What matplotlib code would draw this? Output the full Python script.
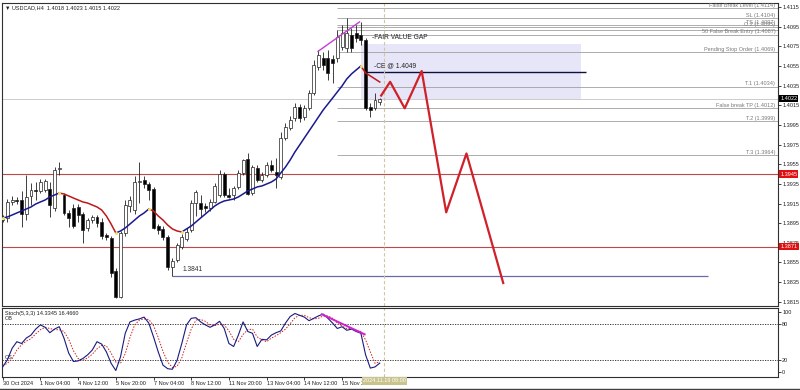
import matplotlib
matplotlib.use('Agg')
import matplotlib.pyplot as plt
import matplotlib.transforms as mtransforms
from matplotlib.patches import Rectangle
from matplotlib.lines import Line2D
import numpy as np

plt.rcParams['font.family'] = ['Liberation Sans', 'DejaVu Sans']

# USDCAD H4 candles, bar 0 = 30 Oct 2024 20:00
opens = [1.38982, 1.39003, 1.39166, 1.39186, 1.39186, 1.39043, 1.39227, 1.39288, 1.39278, 1.39288,
         1.39298, 1.39104, 1.39502, 1.39237, 1.39054, 1.39104, 1.39115, 1.39043, 1.38901, 1.38982,
         1.39013, 1.38962, 1.38829, 1.38799, 1.38463, 1.38198, 1.38850, 1.39125, 1.39084, 1.39369,
         1.39390, 1.39349, 1.39298, 1.38921, 1.38891, 1.38809, 1.38503, 1.38575, 1.38707, 1.38789,
         1.38880, 1.39155, 1.39155, 1.39125, 1.39104, 1.39166, 1.39237, 1.39451, 1.39237, 1.39237,
         1.39319, 1.39461, 1.39604, 1.39257, 1.39512, 1.39390, 1.39441, 1.39543, 1.39471, 1.39420,
         1.39818, 1.39920, 1.40022, 1.40134, 1.40032, 1.40124, 1.40276, 1.40541, 1.40633, 1.40633,
         1.40623, 1.40633, 1.40745, 1.40735, 1.40867, 1.40888, 1.40867, 1.40816, 1.40134, 1.40124,
         1.40180]
highs = [1.39033, 1.39196, 1.39227, 1.39217, 1.39278, 1.39441, 1.39359, 1.39369, 1.39400, 1.39400,
         1.39369, 1.39522, 1.39573, 1.39257, 1.39084, 1.39145, 1.39145, 1.39064, 1.39003, 1.39033,
         1.39033, 1.39003, 1.38850, 1.38819, 1.38493, 1.38870, 1.39186, 1.39227, 1.39431, 1.39573,
         1.39431, 1.39369, 1.39319, 1.38941, 1.38921, 1.38829, 1.38595, 1.38748, 1.38840, 1.38901,
         1.39186, 1.39288, 1.39237, 1.39155, 1.39196, 1.39359, 1.39492, 1.39471, 1.39308, 1.39329,
         1.39492, 1.39604, 1.39665, 1.39543, 1.39543, 1.39471, 1.39573, 1.39594, 1.39614, 1.39879,
         1.39971, 1.40042, 1.40174, 1.40164, 1.40154, 1.40307, 1.40613, 1.40715, 1.40694, 1.40715,
         1.40664, 1.40918, 1.40969, 1.41041, 1.40939, 1.40969, 1.41000, 1.40837, 1.40174, 1.40276,
         1.40230]
lows = [1.38962, 1.38962, 1.39135, 1.39145, 1.38911, 1.38982, 1.39135, 1.39186, 1.39257, 1.39268,
        1.39013, 1.39074, 1.39441, 1.39033, 1.38911, 1.38901, 1.38962, 1.38748, 1.38870, 1.38952,
        1.38911, 1.38789, 1.38778, 1.38401, 1.38187, 1.38187, 1.38819, 1.39064, 1.39043, 1.39155,
        1.39308, 1.39186, 1.38891, 1.38840, 1.38778, 1.38473, 1.38410, 1.38554, 1.38687, 1.38768,
        1.38860, 1.39023, 1.39013, 1.39064, 1.39074, 1.39155, 1.39217, 1.39217, 1.39206, 1.39186,
        1.39298, 1.39441, 1.39237, 1.39237, 1.39369, 1.39369, 1.39420, 1.39471, 1.39308, 1.39400,
        1.39797, 1.39899, 1.39991, 1.39981, 1.40001, 1.40103, 1.40256, 1.40511, 1.40511, 1.40409,
        1.40378, 1.40592, 1.40715, 1.40694, 1.40694, 1.40796, 1.40765, 1.40103, 1.40032, 1.40103,
        1.40150]
closes = [1.39013, 1.39166, 1.39186, 1.39176, 1.39043, 1.39217, 1.39288, 1.39278, 1.39369, 1.39380,
          1.39135, 1.39492, 1.39512, 1.39054, 1.39003, 1.38921, 1.39033, 1.38880, 1.38982, 1.39013,
          1.38952, 1.38819, 1.38809, 1.38442, 1.38198, 1.38850, 1.39135, 1.39186, 1.39369, 1.39380,
          1.39349, 1.39288, 1.38901, 1.38880, 1.38809, 1.38503, 1.38564, 1.38727, 1.38809, 1.38860,
          1.39155, 1.39268, 1.39094, 1.39104, 1.39166, 1.39329, 1.39451, 1.39237, 1.39217, 1.39308,
          1.39461, 1.39594, 1.39247, 1.39522, 1.39390, 1.39441, 1.39543, 1.39492, 1.39441, 1.39818,
          1.39930, 1.40001, 1.40134, 1.40022, 1.40124, 1.40276, 1.40562, 1.40664, 1.40562, 1.40480,
          1.40582, 1.40847, 1.40888, 1.40888, 1.40735, 1.40837, 1.40816, 1.40124, 1.40103, 1.40205,
          1.40220]

# moving average, blue while rising, red while falling
ma_line = [1.39003, 1.39013, 1.39033, 1.39054, 1.39074, 1.39094, 1.39115, 1.39145, 1.39166, 1.39186,
           1.39217, 1.39237, 1.39257, 1.39247, 1.39227, 1.39206, 1.39186, 1.39166, 1.39155, 1.39135,
           1.39115, 1.39084, 1.39023, 1.38941, 1.38850, 1.38870, 1.38901, 1.38941, 1.38982, 1.39023,
           1.39054, 1.39094, 1.39074, 1.39023, 1.38982, 1.38931, 1.38891, 1.38870, 1.38860, 1.38891,
           1.38921, 1.38962, 1.39003, 1.39043, 1.39084, 1.39125, 1.39155, 1.39176, 1.39186, 1.39196,
           1.39217, 1.39247, 1.39278, 1.39298, 1.39319, 1.39329, 1.39349, 1.39369, 1.39400, 1.39461,
           1.39522, 1.39594, 1.39675, 1.39746, 1.39818, 1.39889, 1.39960, 1.40032, 1.40103, 1.40164,
           1.40225, 1.40287, 1.40348, 1.40419, 1.40470, 1.40511, 1.40551, 1.40480, 1.40450, 1.40419,
           1.40388]
ma_turns = [0, 12, 24, 31, 38, 76, 80]

stoch_main = [8, 20, 39, 50, 47, 56, 61, 71, 78, 74,
              65, 71, 75, 56, 31, 17, 18, 22, 28, 36,
              50, 46, 33, 14, 2, 25, 64, 83, 86, 88,
              91, 81, 58, 33, 11, 5, 4, 19, 47, 78,
              89, 90, 83, 78, 74, 78, 84, 72, 47, 42,
              61, 83, 67, 64, 42, 54, 53, 61, 65, 68,
              81, 92, 97, 94, 91, 85, 89, 93, 96, 89,
              81, 72, 75, 69, 71, 67, 64, 28, 6, 8,
              14.33]
stoch_signal = [10, 14, 22, 36, 45, 51, 55, 63, 70, 74,
                72, 70, 70, 67, 54, 35, 22, 19, 23, 29,
                38, 44, 43, 31, 16, 14, 30, 57, 78, 86,
                88, 87, 77, 57, 34, 16, 7, 9, 23, 48,
                71, 86, 87, 84, 78, 77, 79, 78, 68, 54,
                50, 62, 70, 71, 58, 53, 50, 56, 60, 65,
                71, 80, 90, 94, 94, 90, 88, 89, 93, 93,
                89, 81, 76, 72, 72, 69, 67, 53, 33, 14,
                16.47]

time_ticks = [0, 8, 16, 24, 32, 40, 48, 56, 64, 72]
time_labels = ['30 Oct 2024', '1 Nov 04:00', '4 Nov 12:00', '5 Nov 20:00', '7 Nov 04:00',
               '8 Nov 12:00', '11 Nov 20:00', '13 Nov 04:00', '14 Nov 12:00', '15 Nov 20:00']
price_ticks = [1.3815, 1.3835, 1.3855, 1.3875, 1.3895, 1.3915, 1.3935, 1.3955,
               1.3975, 1.3995, 1.4015, 1.4035, 1.4055, 1.4075, 1.4095, 1.4115]

# trade levels drawn from bar 71 to the right edge
levels = [1.4114, 1.4104, 1.4097, 1.4095, 1.4092, 1.4087, 1.4069, 1.4034, 1.4012, 1.3999, 1.3964]
level_labels = ['False Break Level (1.4114)', 'SL (1.4104)', 'TS (1.4097)', 'O.2 (1.4095)', '',
                '50 False Break Entry (1.4087)', 'Pending Stop Order (1.4069)', 'T.1 (1.4034)',
                'False break TP (1.4012)', 'T.2 (1.3999)', 'T.3 (1.3964)']
level_start = 71

support_lines = [1.3945, 1.3871]
last_price = 1.4022
low_line = 1.3841
fvg_low, fvg_high, ce_level = 1.4022, 1.4078, 1.4049

proj_bar = [80.3, 82.2, 85.3, 88.9, 94.1, 98.4, 106.2]
proj_price = [1.4025, 1.4039, 1.4012, 1.4050, 1.3906, 1.3966, 1.3834]

div_bar = [66.9, 75.7]
div_price = [1.4070, 1.4100]
stoch_div_bar = [67.7, 76.8]
stoch_div_val = [95.7, 62.3]
now_bar = 81

W, H = 800, 390
fig = plt.figure(figsize=(8, 3.9), dpi=100)


def px_box(x0, y0, x1, y1):
    return [x0 / W, 1 - y1 / H, (x1 - x0) / W, (y1 - y0) / H]


ax = fig.add_axes(px_box(2, 3, 778, 305.5))
ax2 = fig.add_axes(px_box(2, 307.5, 778, 376.5))
xlim = (-0.15, 164.5)

bars = np.arange(len(closes))
o, h, l, c = map(np.array, (opens, highs, lows, closes))
up = c >= o

# candles
ax.vlines(bars, l, h, color='#202020', lw=0.6, zorder=3)
ax.bar(bars, np.maximum(np.abs(c - o), 0.00004), bottom=np.minimum(o, c), width=0.62,
       color=np.where(up, 'white', 'black'), edgecolor='#202020', linewidth=0.5, zorder=4)

ma = np.array(ma_line)
for k in range(len(ma_turns) - 1):
    a, b = ma_turns[k], ma_turns[k + 1]
    col = '#1a1a90' if k % 2 == 0 else '#c01818'
    ax.plot(bars[a:b + 1], ma[a:b + 1], color=col, lw=1.1, zorder=5)
ax.plot(bars[ma_turns[:-1]], ma[ma_turns[:-1]], 'o', color='#f0e070', ms=2.2, mew=0, zorder=6)

blend = mtransforms.blended_transform_factory(ax.transAxes, ax.transData)

# fair value gap
ax.add_patch(Rectangle((76.1, fvg_low), 122.8 - 76.1, fvg_high - fvg_low,
                       facecolor='#e6e6f8', edgecolor='none', zorder=1))
ax.hlines(ce_level, 77, 123.8, color='#101040', lw=1.0, zorder=2)
ax.text(78.4, 1.4084, '-FAIR VALUE GAP', fontsize=4.8, color='#202020', va='center', zorder=7)
ax.text(78.8, 1.4055, '-CE @ 1.4049', fontsize=4.8, color='#202020', va='center', zorder=7)

for price, label in zip(levels, level_labels):
    ax.hlines(price, level_start, xlim[1], color='#a0a0a0', lw=0.6, zorder=2)
    if label:
        ax.text(0.9965, price + 0.00003, label, transform=blend, ha='right', va='bottom',
                fontsize=4, color='#7a7a7a', zorder=7, clip_on=False)

for price in support_lines:
    ax.axhline(price, color='#c04848', lw=0.8, zorder=2)
ax.axhline(last_price, color='#b8b8b8', lw=0.5, zorder=2)

ax.hlines(low_line, 36, 149.7, color='#6a6aa8', lw=0.9, zorder=2)
ax.text(38.2, 1.38473, '1.3841', fontsize=4.8, color='#303030', va='center')

ax.plot(proj_bar, proj_price, color='#d0202a', lw=1.6, zorder=6)
ax.plot(div_bar, div_price, color='#c040d0', lw=1.0, zorder=6)

for a in (ax, ax2):
    a.axvline(now_bar, color='#cfc6a4', lw=0.8, ls=(0, (3, 2)), zorder=2)
    a.set_xlim(*xlim)
    for s in a.spines.values():
        s.set_color('#303030')
        s.set_linewidth(0.8)

ax.set_ylim(1.38111, 1.41193)
ax.set_xticks([])
ax.yaxis.tick_right()
ax.set_yticks(price_ticks)
ax.set_yticklabels(['%.4f' % p for p in price_ticks])
ax.tick_params(axis='y', length=2, width=0.6, labelsize=4, pad=1, colors='#202020')

ax.text(0.004, 0.993, '\u25bc USDCAD,H4  1.4018 1.4023 1.4015 1.4022', transform=ax.transAxes,
        fontsize=4, va='top', color='#202020')

# price tags on the axis
for price, fc in ((last_price, 'black'), (support_lines[0], '#e01010'), (support_lines[1], '#e01010')):
    ax.text(1.003, price, '%.4f' % price, transform=blend, ha='left', va='center', fontsize=4,
            color='white', clip_on=False, zorder=8,
            bbox=dict(boxstyle='square,pad=0.2', fc=fc, ec='none'))

# stochastic panel
ax2.plot(bars, stoch_main, color='#1a1a80', lw=0.8, zorder=4)
ax2.plot(bars, stoch_signal, color='#d02020', lw=0.7, ls=(0, (1.5, 1.5)), zorder=3)
ax2.plot(stoch_div_bar, stoch_div_val, color='#d020d0', lw=1.4, zorder=5)
for lev in (20, 80):
    ax2.axhline(lev, color='#202020', lw=0.6, ls=(0, (1.5, 1.5)))
ax2.set_ylim(-8, 107)
ax2.yaxis.tick_right()
ax2.set_yticks([0, 20, 80, 100])
ax2.tick_params(axis='y', length=2, width=0.6, labelsize=4, pad=1, colors='#202020')
ax2.set_xticks(time_ticks)
ax2.set_xticklabels(time_labels)
for lbl in ax2.get_xticklabels():
    lbl.set_ha('left')
ax2.tick_params(axis='x', length=2, width=0.6, labelsize=4, pad=1, colors='#202020')
ax2.text(0.004, 0.92, 'Stoch(5,3,3) 14.3345 16.4660', transform=ax2.transAxes, fontsize=4,
         va='center', color='#202020')
ax2.text(0.004, 89, 'OB', transform=mtransforms.blended_transform_factory(ax2.transAxes, ax2.transData),
         fontsize=4, va='center', color='#202020')
ax2.text(0.004, 23, 'OS', transform=mtransforms.blended_transform_factory(ax2.transAxes, ax2.transData),
         fontsize=4, va='center', color='#202020')
ax2.text(now_bar, -0.065, '2024.11.19 08:00',
         transform=mtransforms.blended_transform_factory(ax2.transData, ax2.transAxes),
         ha='center', va='center', fontsize=4, color='white', clip_on=False, zorder=8,
         bbox=dict(boxstyle='square,pad=0.25', fc='#c9c48c', ec='none'))

fig.add_artist(Line2D([0, 1], [1 - 388.5 / H] * 2, color='#404040', lw=1.0))

fig.savefig('out.png', dpi=100, facecolor='white')
